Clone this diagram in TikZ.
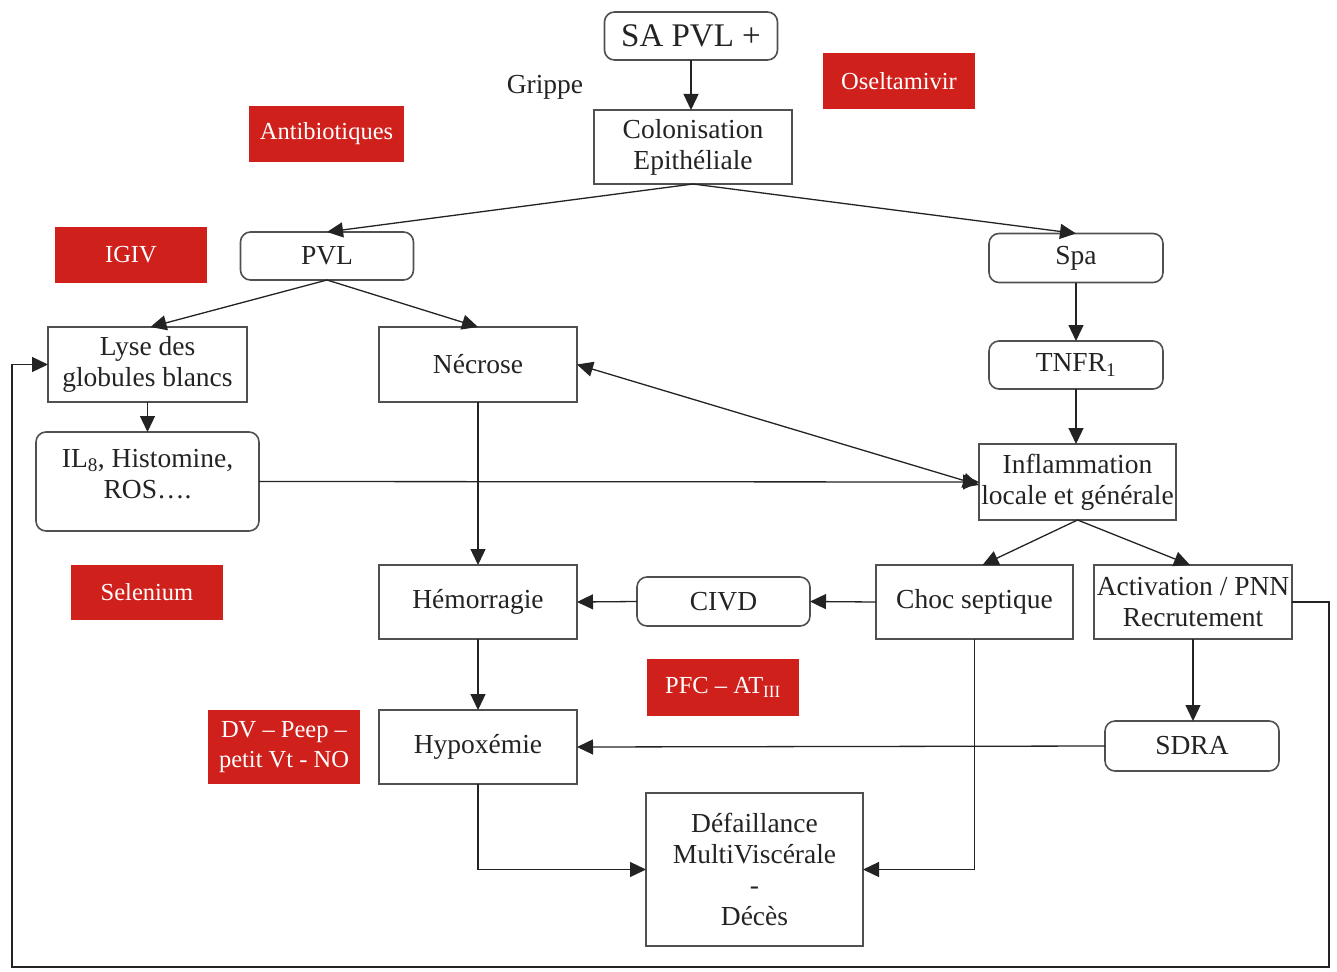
\documentclass[tikz,border=0pt]{standalone}
\usepackage{fontspec}
\setmainfont{Liberation Serif}
\usetikzlibrary{arrows.meta}
\definecolor{redbox}{RGB}{208,32,28}
\definecolor{ink}{RGB}{35,35,35}
\definecolor{boxline}{RGB}{80,80,80}
\begin{document}
\begin{tikzpicture}[x=1pt,y=-1pt,
  every node/.style={inner sep=0pt, outer sep=0pt, text=ink, align=center,
    font=\fontsize{27.5}{31}\selectfont},
  sq/.style={draw=boxline, line width=1.6pt, rectangle},
  rd/.style={draw=boxline, line width=1.6pt, rectangle, rounded corners=10pt},
  rx/.style={fill=redbox, text=white, font=\fontsize{24.5}{30}\selectfont},
  tip/.style={Triangle[length=16pt,width=15pt]},
  arr/.style={draw=ink, line width=1.3pt, -{Triangle[length=16pt,width=15pt]}},
  darr/.style={draw=ink, line width=1.3pt, {Triangle[length=16pt,width=15pt]}-{Triangle[length=16pt,width=15pt]}},
  ln/.style={draw=ink, line width=1.3pt}
]
\useasboundingbox (0,0) rectangle (1337,971);

% main boxes
\node[rd, minimum width=173, minimum height=48, font=\fontsize{33}{36}\selectfont] (sa) at (691,36) {SA PVL +};
\node[sq, minimum width=198, minimum height=74] (col) at (693,147) {Colonisation\\Epith\'eliale};
\node (grippe) at (545,87) {Grippe};
\node[rd, minimum width=173, minimum height=48] (pvl) at (327,256) {PVL};
\node[rd, minimum width=174, minimum height=49] (spa) at (1076,258) {Spa};
\node[sq, minimum width=199, minimum height=75] (lyse) at (147.5,364.5) {Lyse des\\globules blancs};
\node[sq, minimum width=198, minimum height=75] (necrose) at (478,364.5) {N\'ecrose};
\node[rd, minimum width=174, minimum height=48] (tnfr) at (1076,365) {TNFR\textsubscript{1}};
\node[rd, minimum width=223, minimum height=99] (il) at (147.5,481.5) {};
\node (iltext) at (147.5,474) {IL\textsubscript{8}, Histomine,\\ROS….};
\node[sq, minimum width=197, minimum height=76] (infl) at (1077.5,482) {Inflammation\\locale et g\'en\'erale};
\node[sq, minimum width=198, minimum height=74] (hem) at (478,602) {H\'emorragie};
\node[rd, minimum width=173, minimum height=49] (civd) at (723.5,601.5) {CIVD};
\node[sq, minimum width=197, minimum height=74] (choc) at (974.5,602) {Choc septique};
\node[sq, minimum width=198, minimum height=74] (act) at (1193,602) {Activation / PNN\\Recrutement};
\node[sq, minimum width=198, minimum height=74] (hyp) at (478,747) {Hypox\'emie};
\node[rd, minimum width=174, minimum height=50] (sdra) at (1192,746) {SDRA};
\node[sq, minimum width=217, minimum height=153] (def) at (754.5,869.5) {D\'efaillance\\MultiVisc\'erale\\-\\D\'ec\`es};

% red boxes
\node[rx, minimum width=152, minimum height=56] (osel) at (899,81) {Oseltamivir};
\node[rx, minimum width=155, minimum height=56] (anti) at (326.5,134) {Antibiotiques};
\node[rx, minimum width=152, minimum height=56] (igiv) at (131,255) {IGIV};
\node[rx, minimum width=152, minimum height=55] (sel) at (147,592.5) {Selenium};
\node[rx, minimum width=152, minimum height=57] (pfc) at (723,687.5) {PFC -- AT\textsubscript{III}};
\node[rx, minimum width=152, minimum height=74] (dv) at (284,747) {DV -- Peep --\\petit Vt - NO};

% connectors
\draw[arr] (sa.south) -- (sa.south |- col.north);
\draw[arr] (col.south) -- (pvl.north);
\draw[arr] (col.south) -- (spa.north);
\draw[arr] (pvl.south) -- ([xshift=3]lyse.north);
\draw[arr] (pvl.south) -- (necrose.north);
\draw[arr] (spa.south) -- (spa.south |- tnfr.north);
\draw[arr] (tnfr.south) -- (tnfr.south |- infl.north);
\draw[arr] (lyse.south) -- (lyse.south |- il.north);
\draw[darr] (necrose.east) -- ([yshift=-3]infl.west);
\draw[arr] (il.east) -- (infl.west);
\draw[arr] (necrose.south) -- (necrose.south |- hem.north);
\draw[arr] (infl.south) -- ([xshift=8]choc.north);
\draw[arr] (infl.south) -- ([xshift=-3]act.north);
\draw[arr] (choc.west) -- (civd.east);
\draw[arr] (civd.west) -- (hem.east);
\draw[arr] (hem.south) -- (hem.south |- hyp.north);
\draw[arr] (act.south) -- (act.south |- sdra.north);
\draw[arr] (sdra.west) -- (hyp.east);
\draw[arr] (hyp.south) |- (def.west);
\draw[arr] (choc.south) |- (def.east);
\coordinate (loopR) at (1329,967);
\coordinate (loopL) at (12,967);
\draw[arr] (act.east) -| (loopR) -- (loopL) |- (lyse.west);
\end{tikzpicture}
\end{document}
